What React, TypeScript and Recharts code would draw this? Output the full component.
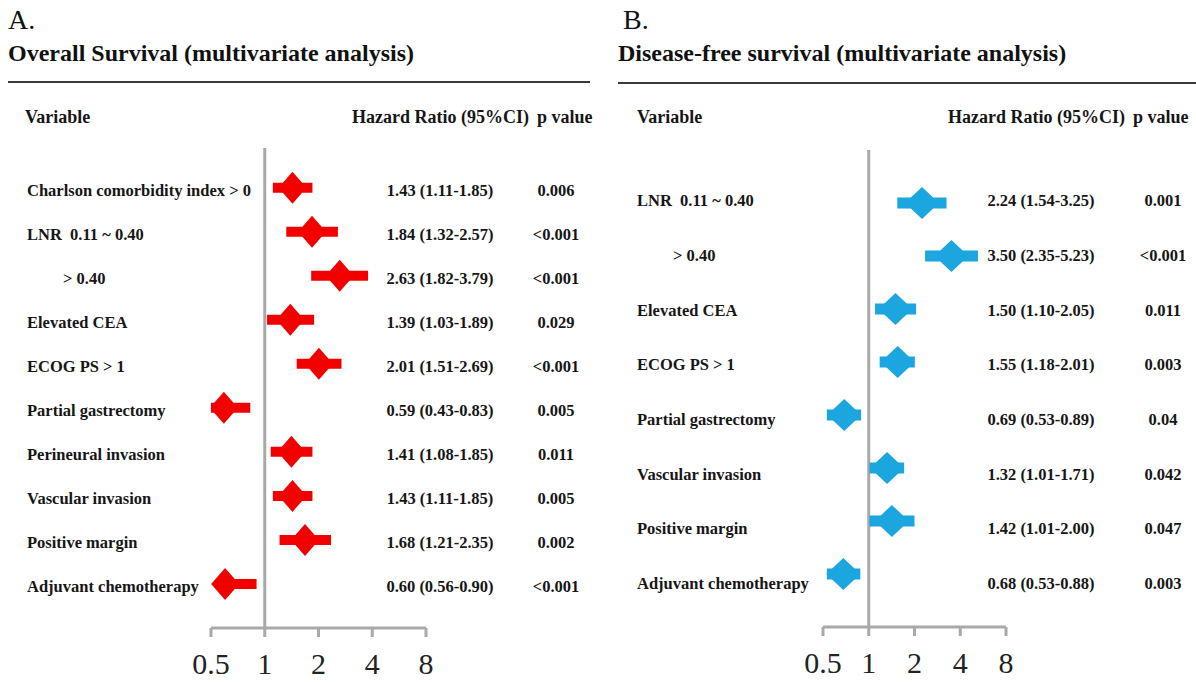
import { ScatterChart, Scatter, XAxis, YAxis, ReferenceLine, ErrorBar } from "recharts";

const FONT = '"Liberation Serif", "Times New Roman", serif';
const AXIS_GREY = "#a9a9a9";

// A. overall survival
const osLabels = [
  "Charlson comorbidity index > 0",
  "LNR  0.11 ~ 0.40",
  "> 0.40",
  "Elevated CEA",
  "ECOG PS > 1",
  "Partial gastrectomy",
  "Perineural invasion",
  "Vascular invasion",
  "Positive margin",
  "Adjuvant chemotherapy",
];
const osHR = [1.43, 1.84, 2.63, 1.39, 2.01, 0.59, 1.41, 1.43, 1.68, 0.6];
const osLow = [1.11, 1.32, 1.82, 1.03, 1.51, 0.43, 1.08, 1.11, 1.21, 0.56];
const osHigh = [1.85, 2.57, 3.79, 1.89, 2.69, 0.83, 1.85, 1.85, 2.35, 0.9];
const osP = ["0.006", "<0.001", "<0.001", "0.029", "<0.001", "0.005", "0.011", "0.005", "0.002", "<0.001"];

// B. disease-free survival
const dfsLabels = [
  "LNR  0.11 ~ 0.40",
  "> 0.40",
  "Elevated CEA",
  "ECOG PS > 1",
  "Partial gastrectomy",
  "Vascular invasion",
  "Positive margin",
  "Adjuvant chemotherapy",
];
const dfsHR = [2.24, 3.5, 1.5, 1.55, 0.69, 1.32, 1.42, 0.68];
const dfsLow = [1.54, 2.35, 1.1, 1.18, 0.53, 1.01, 1.01, 0.53];
const dfsHigh = [3.25, 5.23, 2.05, 2.01, 0.89, 1.71, 2.0, 0.88];
const dfsP = ["0.001", "<0.001", "0.011", "0.003", "0.04", "0.042", "0.047", "0.003"];

const xTicks = [0.5, 1, 2, 4, 8];
const X_MIN = xTicks[0];
const X_MAX = xTicks[xTicks.length - 1];

// error bars are cut at the axis ends, like the original plot
const buildRows = (labels: string[], hr: number[], low: number[], high: number[], p: string[]) =>
  labels.map((label, i) => ({
    row: i,
    label,
    hr: hr[i],
    err: [hr[i] - Math.max(low[i], X_MIN), Math.min(high[i], X_MAX) - hr[i]],
    ci: `${hr[i].toFixed(2)} (${low[i].toFixed(2)}-${high[i].toFixed(2)})`,
    p: p[i],
  }));

const osRows = buildRows(osLabels, osHR, osLow, osHigh, osP);
const dfsRows = buildRows(dfsLabels, dfsHR, dfsLow, dfsHigh, dfsP);

const diamond = (hw: number, hh: number, fill: string) => (props: any) => {
  const { cx, cy } = props;
  return (
    <polygon
      points={`${cx - hw},${cy} ${cx},${cy - hh} ${cx + hw},${cy} ${cx},${cy + hh}`}
      fill={fill}
    />
  );
};

const rowTick = (rows: any[], labelX: number, indent: number, ciX: number, pX: number) => (props: any) => {
  const { y, payload } = props;
  const r = rows[payload.value];
  if (!r) return <g />;
  const common = { fontFamily: FONT, fontSize: 16.5, fontWeight: 700, fill: "#161616", dy: "0.35em" };
  return (
    <g>
      <text {...common} x={r.label.startsWith(">") ? labelX + indent : labelX} y={y} textAnchor="start" style={{ whiteSpace: "pre" }}>
        {r.label}
      </text>
      <text {...common} x={ciX} y={y} textAnchor="middle">{r.ci}</text>
      <text {...common} x={pX} y={y} textAnchor="middle">{r.p}</text>
    </g>
  );
};

interface PanelProps {
  rows: any[];
  color: string;
  axisWidth: number;
  right: number;
  top: number;
  xHeight: number;
  markDomain: number[];
  textDomain: number[];
  labelX: number;
  ciX: number;
  pX: number;
  hw: number;
  hh: number;
  barWidth: number;
}

function ForestPanel(p: PanelProps) {
  const rowIdx = p.rows.map((r) => r.row);
  return (
    <ScatterChart width={598} height={682} margin={{ top: p.top, right: p.right, bottom: 0, left: 0 }}>
      <XAxis
        type="number"
        dataKey="hr"
        scale="log"
        domain={[X_MIN, X_MAX]}
        ticks={xTicks}
        interval={0}
        allowDataOverflow
        height={p.xHeight}
        tickSize={9}
        tickMargin={16}
        axisLine={{ stroke: AXIS_GREY, strokeWidth: 3 }}
        tickLine={{ stroke: AXIS_GREY, strokeWidth: 3 }}
        tick={{ fontFamily: FONT, fontSize: 30, fill: "#222" }}
      />
      <YAxis
        yAxisId="text"
        type="number"
        dataKey="row"
        reversed
        domain={p.textDomain}
        ticks={rowIdx}
        interval={0}
        allowDataOverflow
        width={p.axisWidth}
        axisLine={false}
        tickLine={false}
        tick={rowTick(p.rows, p.labelX, 36, p.ciX, p.pX)}
      />
      <YAxis yAxisId="mark" type="number" dataKey="row" reversed domain={p.markDomain} allowDataOverflow hide />
      <ReferenceLine x={1} yAxisId="mark" stroke={AXIS_GREY} strokeWidth={3} />
      <Scatter yAxisId="text" data={p.rows} shape={() => <g />} isAnimationActive={false} />
      <Scatter yAxisId="mark" data={p.rows} shape={diamond(p.hw, p.hh, p.color)} isAnimationActive={false}>
        <ErrorBar dataKey="err" direction="x" width={0} stroke={p.color} strokeWidth={p.barWidth} isAnimationActive={false} />
      </Scatter>
    </ScatterChart>
  );
}

function Headers() {
  const head = { fontFamily: FONT, fontSize: 18, fontWeight: 700, fill: "#161616" };
  const title = { fontFamily: FONT, fontSize: 24, fontWeight: 700, fill: "#111" };
  const letter = { fontFamily: FONT, fontSize: 28, fill: "#111" };
  return (
    <svg width={1196} height={682} style={{ position: "absolute", left: 0, top: 0 }}>
      <text {...letter} x={8} y={29}>A.</text>
      <text {...title} x={8} y={61}>Overall Survival (multivariate analysis)</text>
      <line x1={8} x2={590} y1={82} y2={82} stroke="#3a3a3a" strokeWidth={2} />
      <text {...head} x={25} y={123}>Variable</text>
      <text {...head} x={352} y={123}>Hazard Ratio (95%CI)</text>
      <text {...head} x={537} y={123}>p value</text>

      <text {...letter} x={623} y={29}>B.</text>
      <text {...title} x={618} y={61}>Disease-free survival (multivariate analysis)</text>
      <line x1={618} x2={1196} y1={83} y2={83} stroke="#3a3a3a" strokeWidth={2} />
      <text {...head} x={637} y={123}>Variable</text>
      <text {...head} x={948} y={123}>Hazard Ratio (95%CI)</text>
      <text {...head} x={1133} y={123}>p value</text>
    </svg>
  );
}

export default function App() {
  return (
    <div style={{ position: "absolute", left: 0, top: 0, width: 1196, height: 682, background: "#fff" }}>
      <Headers />
      <div style={{ position: "absolute", left: 0, top: 0 }}>
        <ForestPanel
          rows={osRows}
          color="#f20000"
          axisWidth={211}
          right={172}
          top={148}
          xHeight={54}
          markDomain={[-0.9, 10.0]}
          textDomain={[-0.955, 9.955]}
          labelX={27}
          ciX={440}
          pX={556}
          hw={14}
          hh={16}
          barWidth={10}
        />
      </div>
      <div style={{ position: "absolute", left: 598, top: 0 }}>
        <ForestPanel
          rows={dfsRows}
          color="#1ba6e0"
          axisWidth={225}
          right={190}
          top={150}
          xHeight={55}
          markDomain={[-1.0, 8.0]}
          textDomain={[-0.925, 7.8]}
          labelX={39}
          ciX={443}
          pX={565}
          hw={17}
          hh={16}
          barWidth={11}
        />
      </div>
    </div>
  );
}
